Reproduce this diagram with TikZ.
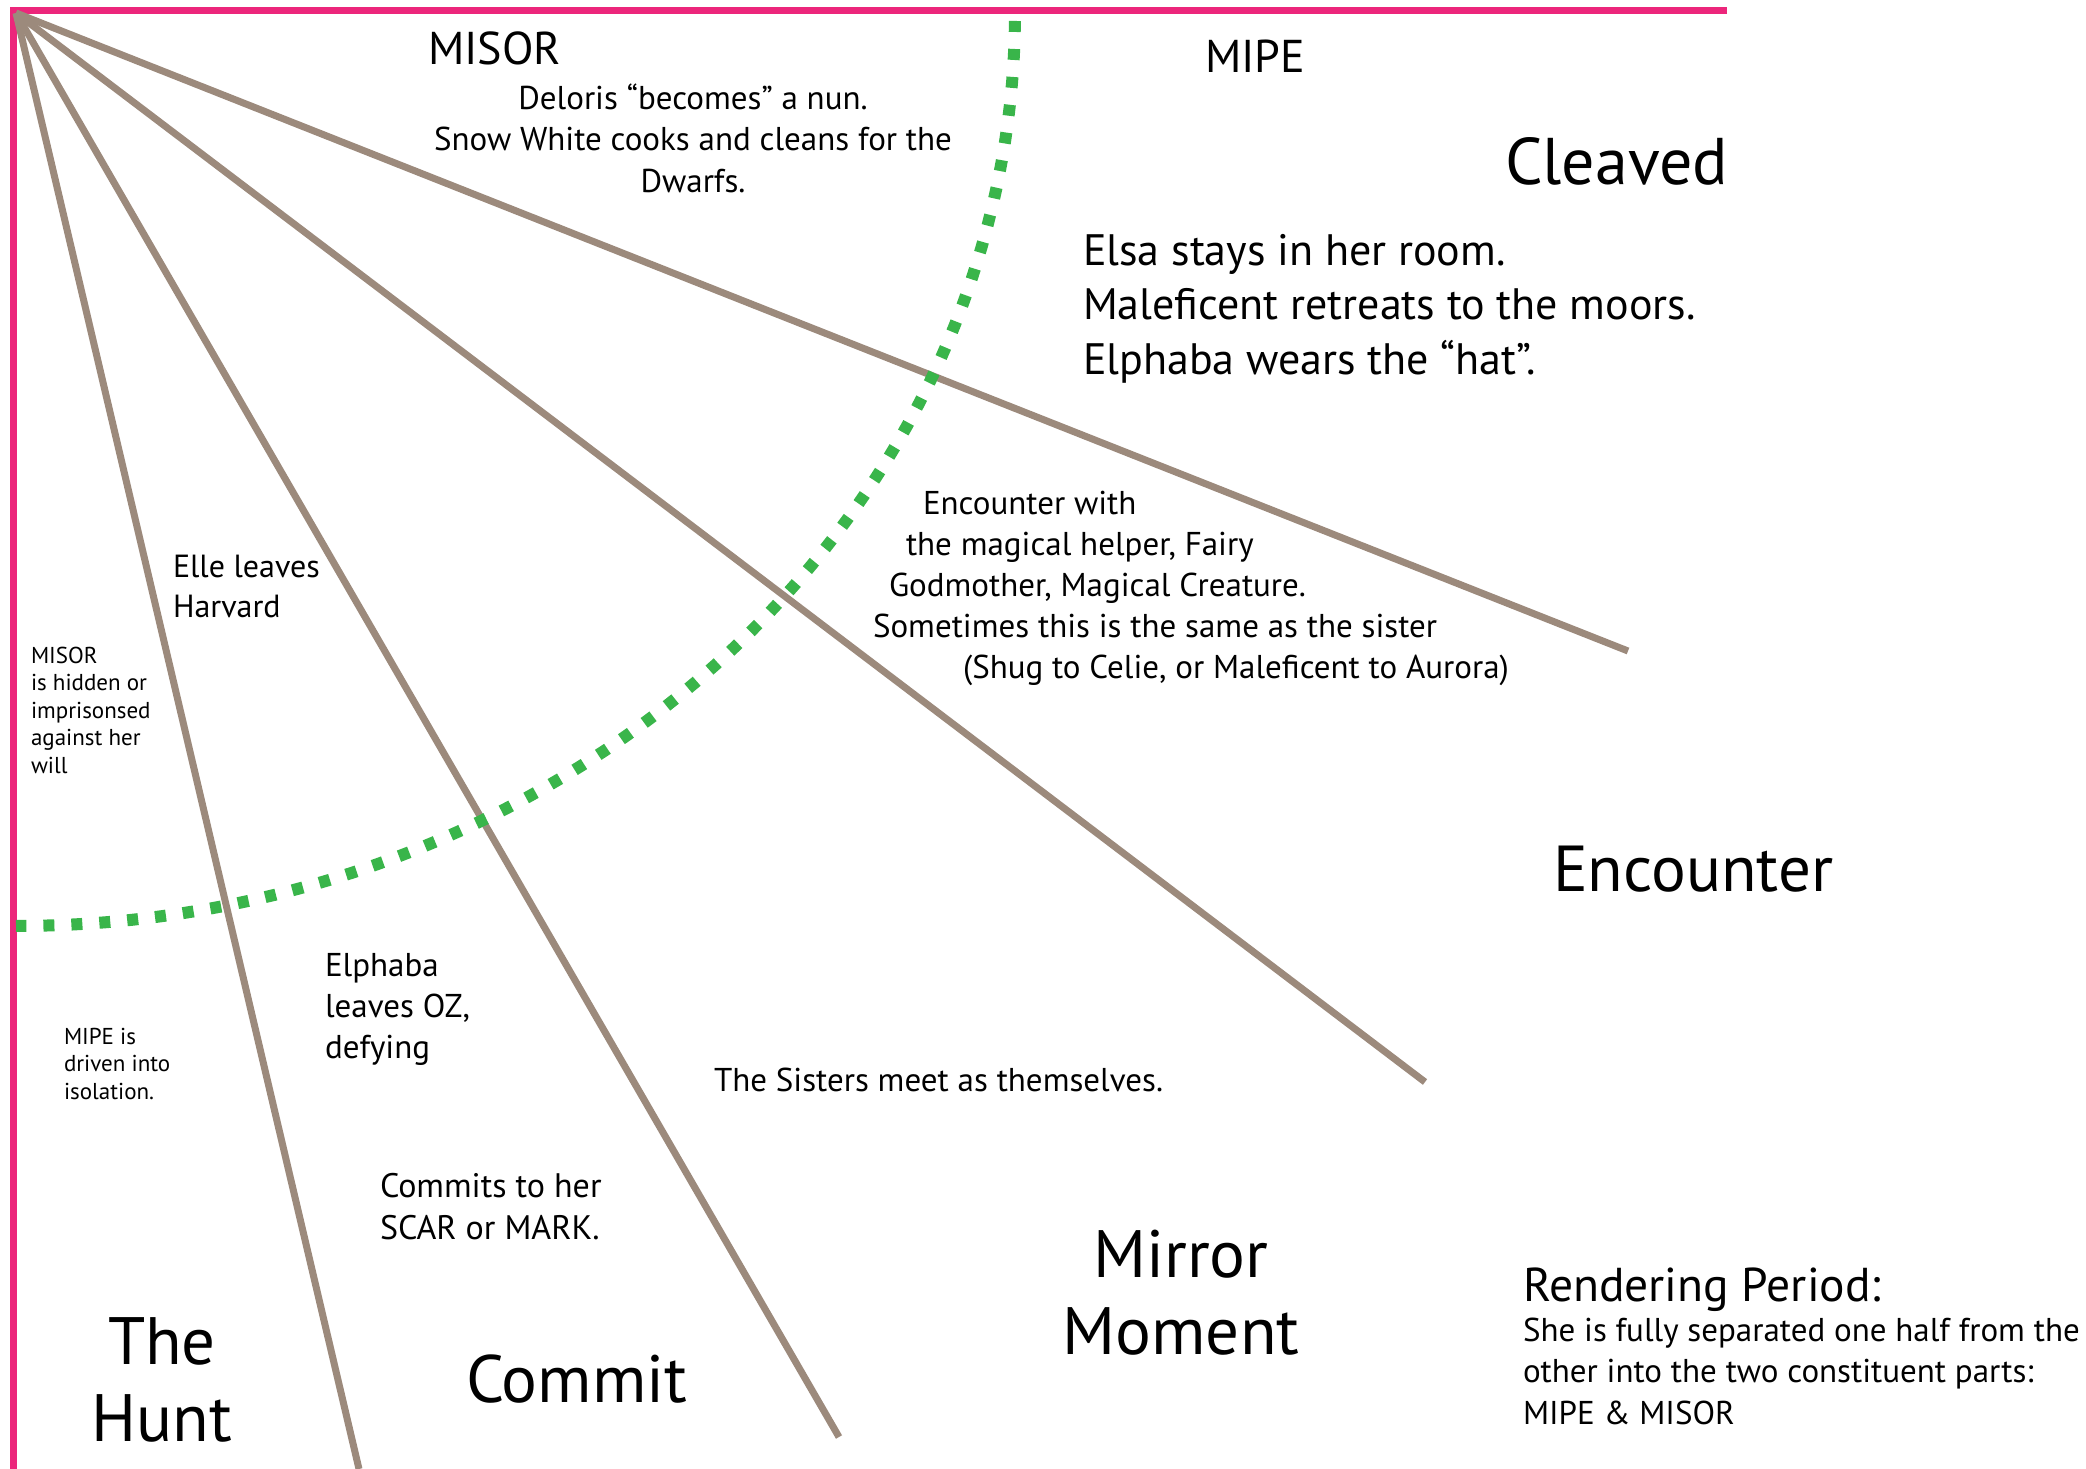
\documentclass[tikz,border=0pt]{standalone}
\usepackage{fontspec}
\setmainfont{PT Sans}
\definecolor{pinkc}{RGB}{236,38,123}
\definecolor{brownc}{RGB}{156,138,124}
\definecolor{greenc}{RGB}{57,181,74}
\begin{document}
\begin{tikzpicture}[x=1pt,y=-1pt,
  lbl/.style={inner sep=0pt, outer sep=0pt, text=black, anchor=base west, align=left},
  clbl/.style={inner sep=0pt, outer sep=0pt, text=black, anchor=base, align=center},
  ray/.style={draw=brownc, line width=7pt},
  frame/.style={draw=pinkc, line width=7pt},
  sep/.style={draw=greenc, line width=12pt, dash pattern=on 11pt off 17pt}]
\useasboundingbox (0,0) rectangle (2086,1469);
% frame
\coordinate (apex) at (16,13);
\coordinate (tr) at (1727,11);
\coordinate (bl) at (13,1469);
\coordinate (tl) at (13,11);
\draw[frame] (tr) -- (tl) -- (bl);
% rays
\coordinate (e1) at (359,1469);
\coordinate (e2) at (839,1437);
\coordinate (e3) at (1425,1082);
\coordinate (e4) at (1628,651);
\draw[ray] (apex) -- (e1);
\draw[ray] (apex) -- (e2);
\draw[ray] (apex) -- (e3);
\draw[ray] (apex) -- (e4);
% green dotted arc
\draw[sep] plot[domain=0.5:90, samples=120] ({16+999*cos(\x)}, {13+913*sin(\x)});
% texts (base = last line's baseline)
\node[lbl, font=\fontsize{46}{56}\selectfont] (misor) at (428,65) {MISOR};
\node[clbl, font=\fontsize{33}{41}\selectfont] (deloris) at (693,192) {Deloris “becomes” a nun.\\Snow White cooks and cleans for the\\Dwarfs.};
\node[lbl, font=\fontsize{46}{56}\selectfont] (mipe) at (1205,73) {MIPE};
\node[lbl, font=\fontsize{66}{76}\selectfont] (cleaved) at (1505,184) {Cleaved};
\node[lbl, font=\fontsize{44}{54.5}\selectfont] (elsa) at (1083,374) {Elsa stays in her room.\\Maleficent retreats to the moors.\\Elphaba wears the “hat”.};
\node[lbl, font=\fontsize{33}{41}\selectfont] (helper) at (873,678) {\hspace*{50pt}Encounter with\\\hspace*{33pt}the magical helper, Fairy\\\hspace*{16pt}Godmother, Magical Creature.\\Sometimes this is the same as the sister\\\hspace*{90pt}(Shug to Celie, or Maleficent to Aurora)};
\node[lbl, font=\fontsize{32}{40}\selectfont] (elle) at (173,617) {Elle leaves\\Harvard};
\node[lbl, font=\fontsize{23}{27.5}\selectfont] (hidden) at (31,773) {MISOR\\is hidden or\\imprisonsed\\against her\\will};
\node[lbl, font=\fontsize{23}{27.5}\selectfont] (isol) at (64,1099) {MIPE is\\driven into\\isolation.};
\node[lbl, font=\fontsize{33}{41}\selectfont] (elph) at (325,1058) {Elphaba\\leaves OZ,\\defying};
\node[lbl, font=\fontsize{33}{41}\selectfont] (sisters) at (714,1091) {The Sisters meet as themselves.};
\node[lbl, font=\fontsize{34}{41.5}\selectfont] (commits) at (380,1239) {Commits to her\\SCAR or MARK.};
\node[clbl, font=\fontsize{67}{77}\selectfont] (hunt) at (162,1441) {The\\Hunt};
\node[lbl, font=\fontsize{67}{77}\selectfont] (commit) at (466,1402) {Commit};
\node[clbl, font=\fontsize{67}{77}\selectfont] (mirror) at (1181,1354) {Mirror\\Moment};
\node[lbl, font=\fontsize{65}{75}\selectfont] (enc) at (1553,891) {Encounter};
\node[lbl, font=\fontsize{47.5}{52}\selectfont] (rend) at (1523,1301) {Rendering Period:};
\node[lbl, font=\fontsize{33}{41.5}\selectfont] (sep) at (1523,1424) {She is fully separated one half from the\\other into the two constituent parts:\\MIPE \& MISOR};
\end{tikzpicture}
\end{document}
